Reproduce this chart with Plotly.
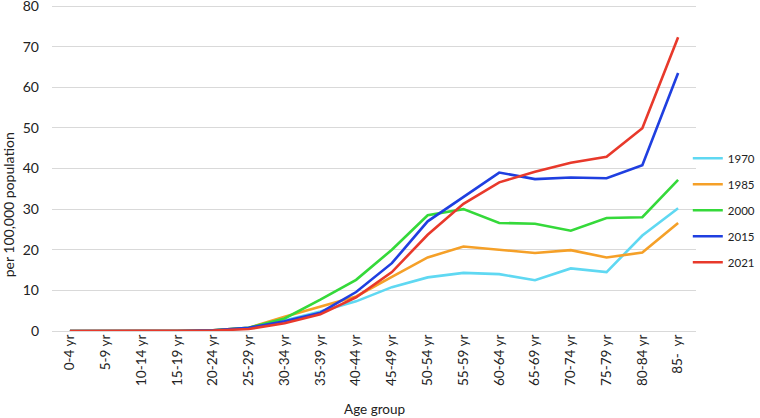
import plotly.graph_objects as go

# age groups on the category axis
age_groups = ["0-4 yr", "5-9 yr", "10-14 yr", "15-19 yr", "20-24 yr", "25-29 yr",
              "30-34 yr", "35-39 yr", "40-44 yr", "45-49 yr", "50-54 yr", "55-59 yr",
              "60-64 yr", "65-69 yr", "70-74 yr", "75-79 yr", "80-84 yr", "85-  yr"]

# rates per 100,000 population
rate_1970 = [0, 0, 0, 0, 0.1, 0.7, 2.6, 4.8, 7.3, 10.8, 13.2, 14.3, 14.0, 12.5, 15.4, 14.5, 23.5, 30.2]
rate_1985 = [0, 0, 0, 0, 0.2, 0.8, 3.5, 6.0, 8.5, 13.3, 18.1, 20.8, 20.0, 19.2, 19.9, 18.1, 19.3, 26.6]
rate_2000 = [0, 0, 0, 0, 0.2, 0.8, 3.1, 7.7, 12.6, 20.0, 28.5, 30.0, 26.6, 26.4, 24.7, 27.8, 28.0, 37.2]
rate_2015 = [0, 0, 0, 0, 0.2, 0.8, 2.4, 4.5, 9.6, 16.7, 27.0, 33.1, 39.0, 37.4, 37.8, 37.6, 40.8, 63.5]
rate_2021 = [0, 0, 0, 0, 0.1, 0.5, 1.9, 4.1, 8.3, 14.5, 23.7, 31.3, 36.6, 39.2, 41.4, 42.9, 49.9, 72.3]

series = [
    ("1970", rate_1970, "#5fd8f2"),
    ("1985", rate_1985, "#f5a028"),
    ("2000", rate_2000, "#35d93a"),
    ("2015", rate_2015, "#1f3fe0"),
    ("2021", rate_2021, "#e8392b"),
]

fig = go.Figure()
for name, vals, col in series:
    fig.add_trace(go.Scatter(
        x=age_groups, y=vals, name=name, mode="lines",
        line=dict(color=col, width=2.6), legendgroup=name,
    ))

font = "Lato, 'Open Sans', sans-serif"

fig.update_layout(
    width=760, height=418,
    margin=dict(l=52, r=64, t=4, b=87, autoexpand=False),
    paper_bgcolor="white", plot_bgcolor="white",
    font=dict(family=font, size=12, color="#222"),
    showlegend=True,
    legend=dict(xref="container", x=0.905, xanchor="left",
                yref="container", y=0.497, yanchor="middle",
                font=dict(size=11.5), tracegroupgap=7, itemwidth=30,
                bgcolor="rgba(0,0,0,0)"),
    xaxis=dict(
        type="category", range=[-0.5, 17.5], tickangle=-90,
        showgrid=False, showline=False, ticks="", automargin=False,
        tickfont=dict(size=13.5),
    ),
    yaxis=dict(
        range=[0, 80.5], tickvals=[0, 10, 20, 30, 40, 50, 60, 70, 80],
        showgrid=True, gridcolor="#d9d9d9", gridwidth=1,
        zeroline=True, zerolinecolor="#d9d9d9", zerolinewidth=1,
        showline=False, ticks="", tickfont=dict(size=14), automargin=False,
        ticklabeloverflow="allow", ticklabelstandoff=12,
    ),
    annotations=[
        dict(text="per 100,000 population", textangle=-90,
             xref="paper", yref="paper", x=-0.068, y=0.385,
             xanchor="center", yanchor="middle", showarrow=False,
             font=dict(size=14)),
        dict(text="Age group", xref="paper", yref="paper", x=0.5, y=-0.238,
             xanchor="center", yanchor="middle", showarrow=False,
             font=dict(size=13.5)),
    ],
)

# the page has a default body margin; drop it so the figure fills the window
fig.write_html("out.html", config={"displayModeBar": False},
               post_script="document.body.style.margin='0';")
